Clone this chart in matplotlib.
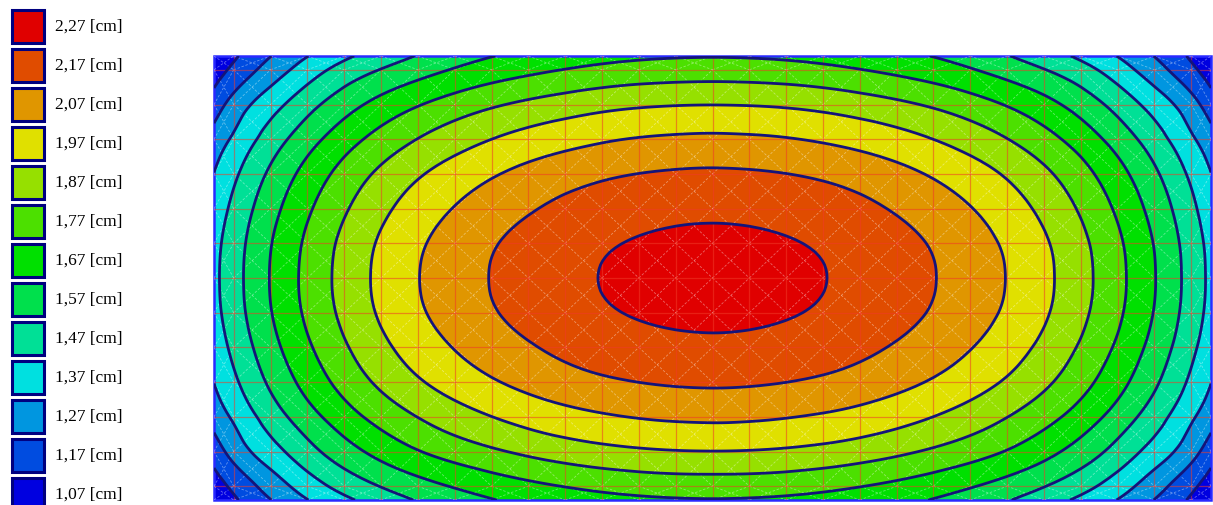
import numpy as np
import matplotlib.pyplot as plt
import matplotlib.tri as mtri
from matplotlib.collections import LineCollection
from matplotlib.patches import Rectangle

# plate size (picture units) and mesh pitch
W, H = 997.0, 444.0
DX, DY = 36.83, 34.7

# deflection [cm], top-left quarter of the plate
# columns: distance from plate centre along x, rows: distance from centre along y
qx = [498.5, 479.7, 442.9, 406.0, 332.4, 258.7, 185.0, 111.4, 37.7, 0.0]
qy = [222.0, 208.0, 173.3, 138.6, 104.0, 69.2, 34.5, 0.0]
w_quarter = [
    [1.080, 1.150, 1.265, 1.365, 1.515, 1.626, 1.695, 1.740, 1.762, 1.765],
    [1.120, 1.190, 1.310, 1.417, 1.573, 1.677, 1.747, 1.794, 1.817, 1.820],
    [1.220, 1.304, 1.427, 1.533, 1.702, 1.814, 1.890, 1.941, 1.966, 1.969],
    [1.311, 1.383, 1.514, 1.627, 1.805, 1.925, 2.006, 2.059, 2.085, 2.089],
    [1.372, 1.447, 1.584, 1.702, 1.888, 2.013, 2.098, 2.154, 2.181, 2.185],
    [1.412, 1.490, 1.631, 1.752, 1.944, 2.073, 2.160, 2.218, 2.246, 2.250],
    [1.439, 1.518, 1.662, 1.785, 1.981, 2.112, 2.201, 2.259, 2.288, 2.292],
    [1.447, 1.526, 1.671, 1.795, 1.992, 2.124, 2.213, 2.272, 2.301, 2.305],
]

levels = [2.27, 2.17, 2.07, 1.97, 1.87, 1.77, 1.67, 1.57, 1.47, 1.37, 1.27, 1.17, 1.07]
colors = ['#e00000', '#e04c00', '#e09600', '#e0e000', '#96e000', '#4ce000', '#00e000',
          '#00e04c', '#00e096', '#00e0e0', '#0096e0', '#004ce0', '#0000e0']

# full field from the quarter (plate is symmetric)
qx_a = np.array(qx)
qy_a = np.array(qy)
q = np.array(w_quarter)
x = np.concatenate([W / 2 - qx_a, W / 2 + qx_a[-2::-1]])
y = np.concatenate([H / 2 - qy_a, H / 2 + qy_a[-2::-1]])
top = np.hstack([q, q[:, -2::-1]])
Z = np.vstack([top, top[-2::-1]])

X, Y = np.meshgrid(x, y)
tri = mtri.Triangulation(X.ravel(), Y.ravel())
refiner = mtri.UniformTriRefiner(tri)
tri_f, z_f = refiner.refine_field(Z.ravel(), subdiv=3)

fig = plt.figure(figsize=(12.13, 5.06), dpi=100)

# legend
leg = fig.add_axes([0, 0, 1, 1])
leg.set_xlim(0, 1213)
leg.set_ylim(506, 0)
leg.axis('off')
for i, (lv, c) in enumerate(zip(levels, colors)):
    leg.add_patch(Rectangle((12, 10.5 + 39 * i), 32, 33, fc=c, ec='#000080', lw=2.2))
    leg.text(55, 27 + 39 * i, f"{lv:.2f}".replace('.', ',') + " [cm]",
             va='center', ha='left', fontsize=12.5, family='Liberation Serif')

ax = fig.add_axes([214 / 1213, 5 / 506, 997 / 1213, 444 / 506])
ax.set_xlim(0, W)
ax.set_ylim(H, 0)
ax.axis('off')

bounds = [0.0] + levels[::-1][1:] + [5.0]
ax.tricontourf(tri_f, z_f, levels=bounds, colors=colors[::-1])

# mesh: red element lines and white diagonals
xs = [W / 2 + DX * k for k in range(-13, 14)]
ys = [H / 2 + DY * j for j in range(-6, 7)]
xe = [0.0] + xs + [W]
ye = [0.0] + ys + [H]
diag = []
for i in range(len(xe) - 1):
    for j in range(len(ye) - 1):
        diag.append([(xe[i], ye[j]), (xe[i + 1], ye[j + 1])])
        diag.append([(xe[i], ye[j + 1]), (xe[i + 1], ye[j])])
ax.add_collection(LineCollection(diag, colors='white', linewidths=0.6, alpha=0.4,
                                 linestyles=(0, (3, 2))))
red = [[(xv, 0), (xv, H)] for xv in xs] + [[(0, yv), (W, yv)] for yv in ys]
ax.add_collection(LineCollection(red, colors='#f03a28', linewidths=0.9, alpha=0.55))

ax.tricontour(tri_f, z_f, levels=levels[::-1][1:], colors='#14147a', linewidths=2.0)

ax.add_patch(Rectangle((0, 0), W, H, fill=False, ec='#2a2aff', lw=1.8, clip_on=False))

fig.savefig('out.png', dpi=100)
